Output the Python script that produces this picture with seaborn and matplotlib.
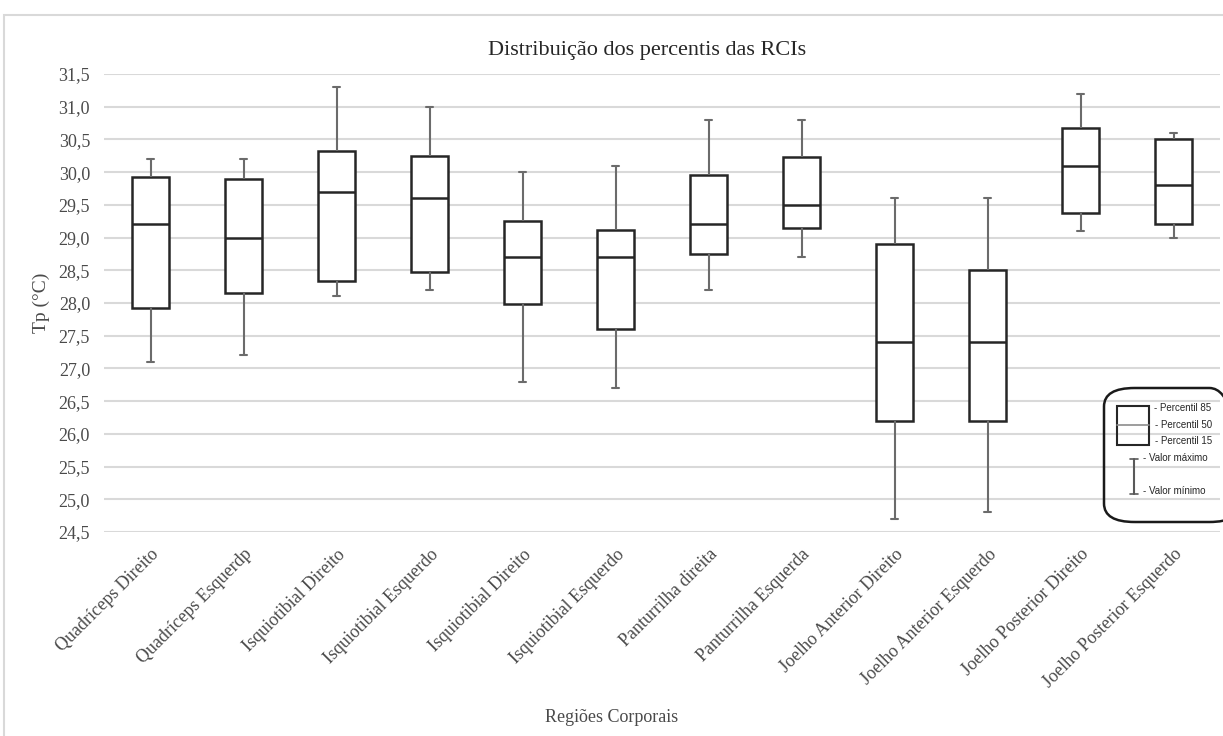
import pandas as pd
import matplotlib.pyplot as plt
import seaborn as sns
from matplotlib.patches import FancyBboxPatch, Rectangle
from matplotlib.lines import Line2D

regions = [
    "Quadríceps Direito", "Quadríceps Esquerdp", "Isquiotibial Direito",
    "Isquiotibial Esquerdo", "Isquiotibial Direito", "Isquiotibial Esquerdo",
    "Panturrilha direita", "Panturrilha Esquerda", "Joelho Anterior Direito",
    "Joelho Anterior Esquerdo", "Joelho Posterior Direito", "Joelho Posterior Esquerdo",
]
val_min = [27.1, 27.2, 28.1, 28.2, 26.8, 26.7, 28.2, 28.7, 24.7, 24.8, 29.1, 29.0]
p15 = [27.93, 28.16, 28.34, 28.47, 27.98, 27.61, 28.75, 29.14, 26.2, 26.2, 29.37, 29.2]
p50 = [29.2, 29.0, 29.7, 29.6, 28.7, 28.7, 29.2, 29.5, 27.4, 27.4, 30.1, 29.8]
p85 = [29.92, 29.9, 30.32, 30.25, 29.25, 29.12, 29.96, 30.23, 28.9, 28.5, 30.68, 30.5]
val_max = [30.2, 30.2, 31.3, 31.0, 30.0, 30.1, 30.8, 30.8, 29.6, 29.6, 31.2, 30.6]
y_ticks = [24.5, 25.0, 25.5, 26.0, 26.5, 27.0, 27.5, 28.0, 28.5, 29.0, 29.5, 30.0, 30.5, 31.0, 31.5]

# five points per region -> quartiles of these are p15 / p85 (linear interpolation)
rows = []
for i in range(len(regions)):
    for v in (val_min[i], p15[i], p50[i], p85[i], val_max[i]):
        rows.append({"pos": str(i), "tp": v})
df = pd.DataFrame(rows)

sns.set_style("white")
serif = ["Liberation Serif", "DejaVu Serif"]
plt.rcParams["font.family"] = serif

fig = plt.figure(figsize=(12.23, 7.36), dpi=100)
ax = fig.add_axes([104 / 1223, 1 - 532 / 736, 1116 / 1223, 458 / 736])

box_col = "#262626"
whisk_col = "#6b6b6b"
sns.boxplot(
    data=df, x="pos", y="tp", order=[str(i) for i in range(len(regions))],
    whis=(0, 100), width=0.4, color="white", linecolor=box_col, linewidth=1.8,
    ax=ax, capwidths=0.07,
    whiskerprops={"color": whisk_col, "linewidth": 1.5},
    capprops={"color": whisk_col, "linewidth": 1.5},
    medianprops={"color": box_col, "linewidth": 1.8},
)

ax.set_ylim(24.5, 31.5)
ax.set_xlim(-0.5, len(regions) - 0.5)
ax.set_yticks(y_ticks)
ax.set_yticklabels([f"{t:.1f}".replace(".", ",") for t in y_ticks], fontsize=13, color="#4a4a4a")
ax.set_xticks(range(len(regions)))
ax.set_xticklabels(regions, rotation=45, ha="right", rotation_mode="anchor",
                   fontsize=13, color="#4a4a4a")
ax.tick_params(axis="both", length=0, pad=10)
ax.yaxis.grid(True, color="#d9d9d9", linewidth=1.5)
ax.set_axisbelow(True)
for s in ax.spines.values():
    s.set_visible(False)
ax.set_xlabel("")
ax.set_ylabel("Tp (°C)", fontsize=14, color="#4a4a4a", labelpad=6)

fig.text(647 / 1223, 1 - 50 / 736, "Distribuição dos percentis das RCIs",
         ha="center", va="center", fontsize=16, color="#262626")
fig.text(612 / 1223, 1 - 717 / 736, "Regiões Corporais",
         ha="center", va="center", fontsize=13, color="#4a4a4a")

# outer chart frame
fig.patches.append(Rectangle((4 / 1223, -0.01), 1.0, 1 - 15 / 736 + 0.01,
                             transform=fig.transFigure, fill=False,
                             edgecolor="#d9d9d9", linewidth=1.5))

# hand-drawn legend
W, H = 1223, 736
def fx(px):
    return px / W
def fy(py):
    return 1 - py / H

fig.patches.append(FancyBboxPatch((fx(1104), fy(522)), fx(1240) - fx(1104), fy(388) - fy(522),
                                  boxstyle="round,pad=0,rounding_size=0.025",
                                  transform=fig.transFigure, fill=False,
                                  edgecolor="#1a1a1a", linewidth=1.8, clip_on=False))
fig.patches.append(Rectangle((fx(1117), fy(445)), fx(1149) - fx(1117), fy(406) - fy(445),
                             transform=fig.transFigure, fill=False,
                             edgecolor="#262626", linewidth=1.5))
fig.lines.append(Line2D([fx(1117), fx(1149)], [fy(425), fy(425)], transform=fig.transFigure,
                        color="#8c8c8c", linewidth=1.2))
fig.lines.append(Line2D([fx(1134), fx(1134)], [fy(459), fy(494)], transform=fig.transFigure,
                        color="#595959", linewidth=1.5))
for yy in (459, 494):
    fig.lines.append(Line2D([fx(1130), fx(1138)], [fy(yy), fy(yy)], transform=fig.transFigure,
                            color="#595959", linewidth=1.2))
sans = ["Liberation Sans", "DejaVu Sans"]
for txt, xx, yy in [("- Percentil 85", 1154, 408), ("- Percentil 50", 1155, 425),
                    ("- Percentil 15", 1155, 441), ("- Valor máximo", 1143, 458),
                    ("- Valor mínimo", 1143, 491)]:
    fig.text(fx(xx), fy(yy), txt, ha="left", va="center", fontsize=7,
             family=sans, color="#262626")

fig.savefig("out.png", dpi=100)
